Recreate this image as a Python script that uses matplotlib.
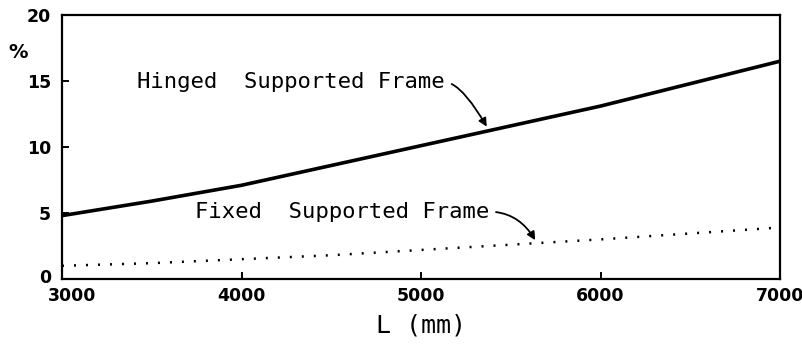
import matplotlib
matplotlib.use("Agg")
import matplotlib.pyplot as plt
import matplotlib.transforms as mtransforms

L_mm = [3000, 3500, 4000, 4500, 5000, 5500, 6000, 6500, 7000]
hinged = [4.8, 5.9, 7.1, 8.6, 10.1, 11.6, 13.1, 14.8, 16.5]
fixed = [1.0, 1.2, 1.5, 1.8, 2.2, 2.6, 3.0, 3.45, 3.9]
x_ticks = [3000, 4000, 5000, 6000, 7000]
y_ticks = [0, 5, 10, 15, 20]

fig = plt.figure(figsize=(8.03, 3.48), dpi=100)
ax = fig.add_axes([0.0772, 0.1983, 0.8942, 0.7586])

ax.plot(L_mm, hinged, color="black", lw=2.6, solid_capstyle="butt",
        solid_joinstyle="round")
ax.plot(L_mm, fixed, color="black", lw=1.8, linestyle=(0, (0.8, 4.0)))

ax.set_xlim(3000, 7000)
ax.set_ylim(0, 20)
ax.set_xticks(x_ticks)
ax.set_yticks(y_ticks)
for s in ax.spines.values():
    s.set_linewidth(1.6)
ax.tick_params(direction="in", length=5, width=1.4, labelsize=12.5)
ax.tick_params(axis="x", pad=6)
ax.tick_params(axis="y", pad=8)
for lab in ax.get_xticklabels() + ax.get_yticklabels():
    lab.set_fontweight("bold")
xl = ax.get_xticklabels()
xl[0].set_transform(xl[0].get_transform() +
                    mtransforms.ScaledTranslation(10 / 100, 0, fig.dpi_scale_trans))
yl = ax.get_yticklabels()
yl[0].set_transform(yl[0].get_transform() +
                    mtransforms.ScaledTranslation(0, 3 / 100, fig.dpi_scale_trans))

ax.set_xlabel("L (mm)", fontsize=18, labelpad=6, family="DejaVu Sans Mono")
fig.text(0.023, 0.85, "%", fontsize=14, fontweight="bold", ha="center", va="center")

mono = "DejaVu Sans Mono"
ax.annotate("Hinged  Supported Frame", xy=(5370, 11.45), xytext=(3420, 14.9),
            fontsize=16, family=mono, ha="left", va="center",
            arrowprops=dict(arrowstyle="-|>", color="black", lw=1.3,
                            connectionstyle="angle3,angleA=0,angleB=-60",
                            relpos=(1, 0.5), shrinkA=3, shrinkB=1,
                            mutation_scale=12))
ax.annotate("Fixed  Supported Frame", xy=(5640, 2.85), xytext=(3740, 5.1),
            fontsize=16, family=mono, ha="left", va="center",
            arrowprops=dict(arrowstyle="-|>", color="black", lw=1.3,
                            connectionstyle="angle3,angleA=0,angleB=-60",
                            relpos=(1, 0.5), shrinkA=3, shrinkB=1,
                            mutation_scale=12))

fig.savefig("out.png", dpi=100)
